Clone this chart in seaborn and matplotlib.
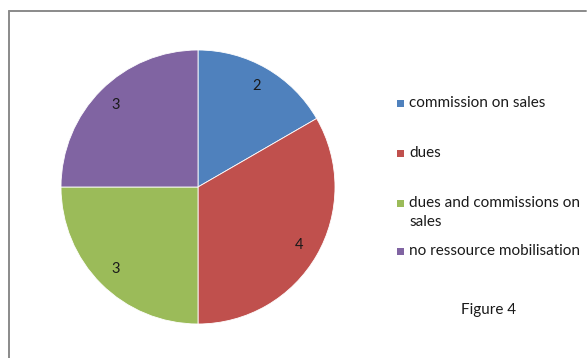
import matplotlib
matplotlib.use("Agg")
import matplotlib.pyplot as plt
from matplotlib.lines import Line2D
from matplotlib.patches import Rectangle
import seaborn as sns

# Data
categories = ["commission on sales", "dues",
              "dues and commissions on\nsales", "no ressource mobilisation"]
values = [2, 4, 3, 3]
colors = ["#4F81BD", "#C0504D", "#9BBB59", "#8064A2"]
caption = "Figure 4"

sns.set_theme(style="white")
plt.rcParams["font.family"] = ["Lato", "DejaVu Sans"]

W, H = 587, 358
fig = plt.figure(figsize=(W / 100, H / 100), dpi=100)
fig.patch.set_facecolor("white")

# Pie area in pixel terms: centre (198, 187), radius 137
cx, cy, r = 198, 187, 137
ax = fig.add_axes([(cx - r) / W, (H - cy - r) / H, 2 * r / W, 2 * r / H])
palette = sns.color_palette(colors)
wedges, texts = ax.pie(values, colors=palette, startangle=90, counterclock=False,
                       labels=[str(v) for v in values], labeldistance=0.85,
                       wedgeprops=dict(edgecolor="white", linewidth=0.6),
                       textprops=dict(fontsize=10.5, color="#1a1a1a"))
for t in texts:
    t.set_ha("center")
    t.set_va("center")
ax.set_xlim(-1, 1)
ax.set_ylim(-1, 1)
ax.set_aspect("auto")
ax.axis("off")

# Legend entries: marker sits on the first text line of each entry
line_h = 19
first_line_y = [103, 153, 203, 251]
for lab, col, y in zip(categories, palette, first_line_y):
    n_lines = lab.count("\n") + 1
    fig.add_artist(Rectangle((397 / W, (H - y - 3.5) / H), 7 / W, 7 / H,
                             transform=fig.transFigure, facecolor=col,
                             edgecolor="none"))
    yc = y + (n_lines - 1) * line_h / 2
    fig.text(409 / W, (H - yc) / H, lab, ha="left", va="center",
             fontsize=11, color="#1a1a1a", linespacing=1.45)

fig.text(489 / W, (H - 310) / H, caption, ha="center", va="center",
         fontsize=11, color="#1a1a1a")

# Chart frame (top and left edges)
fig.add_artist(Line2D([9 / W, 586 / W], [(H - 11) / H, (H - 11) / H],
                      transform=fig.transFigure, color="#8a8a8a", lw=1.4))
fig.add_artist(Line2D([9 / W, 9 / W], [(H - 11) / H, 0],
                      transform=fig.transFigure, color="#8a8a8a", lw=1.4))

fig.savefig("out.png", dpi=100, facecolor="white")
